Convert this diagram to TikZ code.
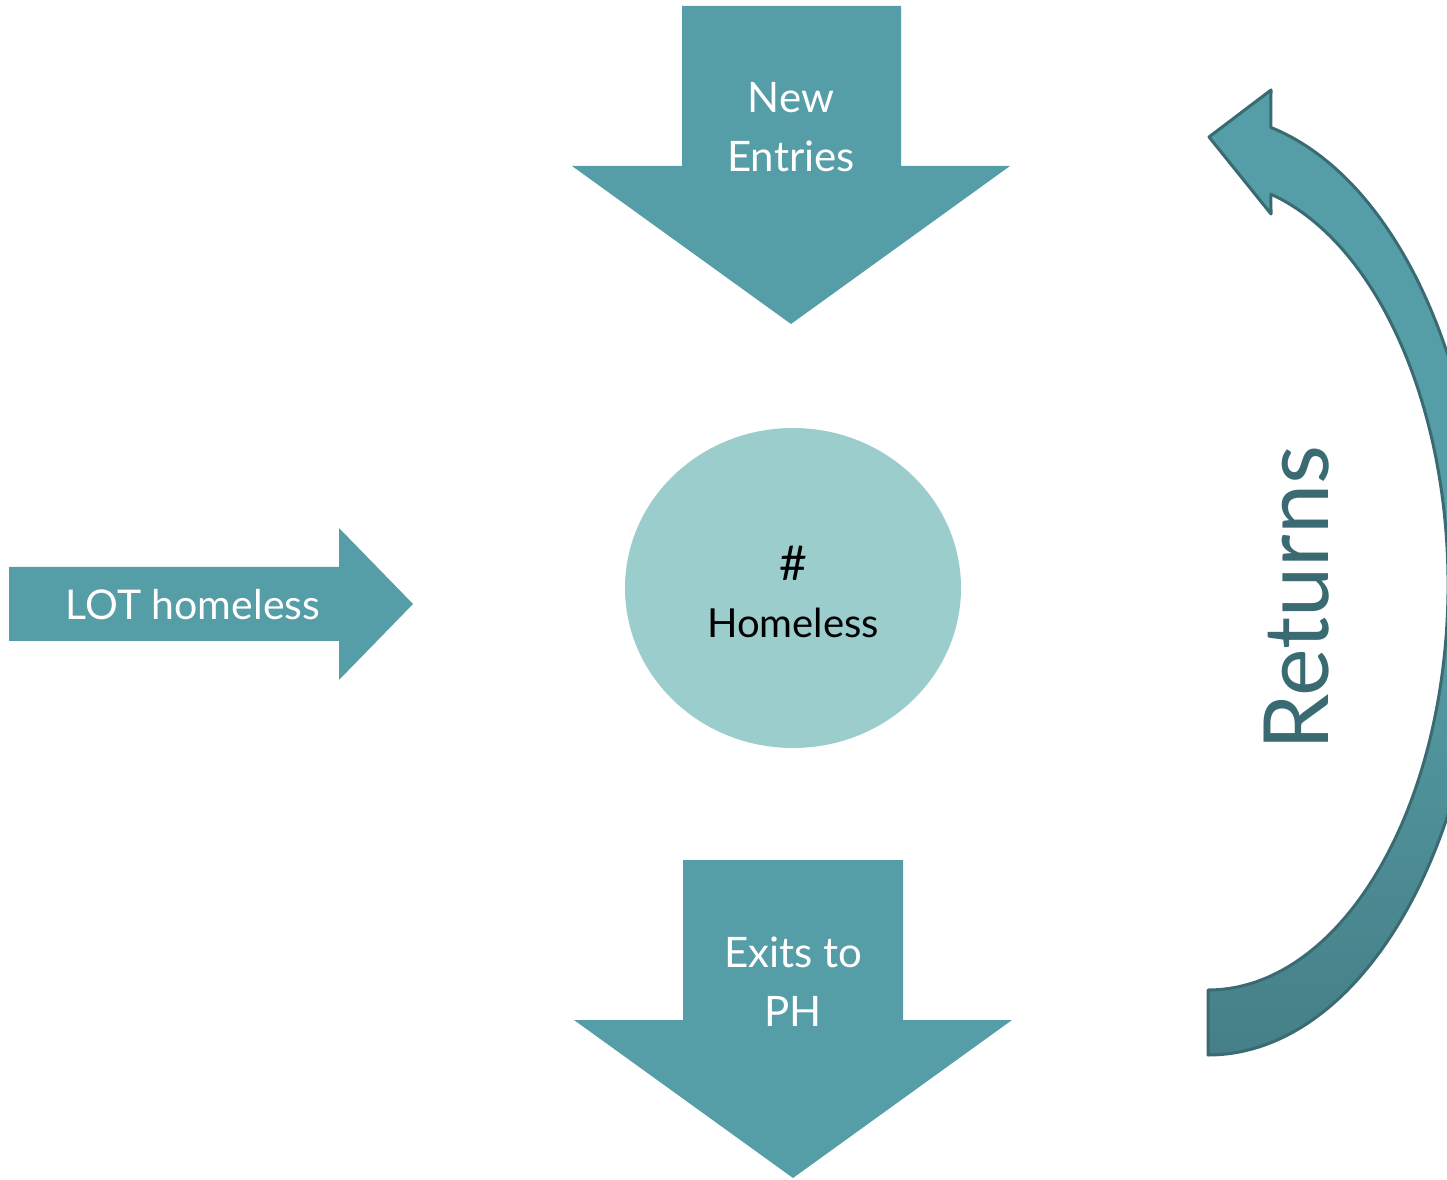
\documentclass[tikz,border=0pt]{standalone}
\usepackage{fontspec}
\setmainfont{Lato}
\usetikzlibrary{shapes.geometric}
\definecolor{arrowteal}{RGB}{85,158,167}
\definecolor{darkteal}{RGB}{70,127,135}
\definecolor{edgeteal}{RGB}{58,107,114}
\definecolor{circleteal}{RGB}{155,205,205}
\begin{document}
\begin{tikzpicture}[x=1pt,y=1pt,
  flowshape/.style={fill=arrowteal,draw=none},
  whitelabel/.style={text=white,font=\fontsize{42}{59}\selectfont,align=center,inner sep=0pt},
  blacklabel/.style={text=black,font=\fontsize{40}{57}\selectfont,align=center,inner sep=0pt},
  returnlabel/.style={text=edgeteal,font=\fontsize{90}{100}\selectfont,inner sep=0pt,rotate=90}]
\useasboundingbox (0,0) rectangle (1447,1179);
% top arrow
\path[flowshape] (682,1173) -- (901,1173) -- (901,1013) -- (1010,1013) -- (791,855) -- (572,1013) -- (682,1013) -- cycle;
\node[whitelabel] (newentries) at (791,1052) {New\\Entries};
% bottom arrow
\path[flowshape] (683,319) -- (903,319) -- (903,159) -- (1012,159) -- (793,1) -- (574,159) -- (683,159) -- cycle;
\node[whitelabel] (exits) at (793,197) {Exits to\\PH};
% left arrow
\path[flowshape] (9,612) -- (339,612) -- (339,651) -- (413,575) -- (339,499) -- (339,538) -- (9,538) -- cycle;
\node[whitelabel, font=\fontsize{41}{59}\selectfont] (lot) at (193,574) {LOT homeless};
% circle
\node[ellipse, minimum width=336pt, minimum height=320pt, fill=circleteal, draw=none, inner sep=0pt] (circ) at (793,591) {};
\node[blacklabel] (homeless) at (793,587) {{\fontsize{48}{57}\selectfont\#}\\Homeless};
% curved returns arrow
\begin{scope}
\clip (0,0) rectangle (1447,1179);
\draw[line width=3pt, draw=edgeteal, line join=round, top color=arrowteal, bottom color=darkteal, middle color=arrowteal]
  (1208,594) ++(74.8:240 and 405)
  arc[start angle=74.8, end angle=-90, x radius=240, y radius=405]
  -- ++(0,-65)
  arc[start angle=-90, end angle=76.8, x radius=275, y radius=470]
  -- (1271,1089) -- (1209,1042) -- (1271,965) -- cycle;
\end{scope}
\node[returnlabel] (returns) at (1297,581) {Returns};
\end{tikzpicture}
\end{document}
